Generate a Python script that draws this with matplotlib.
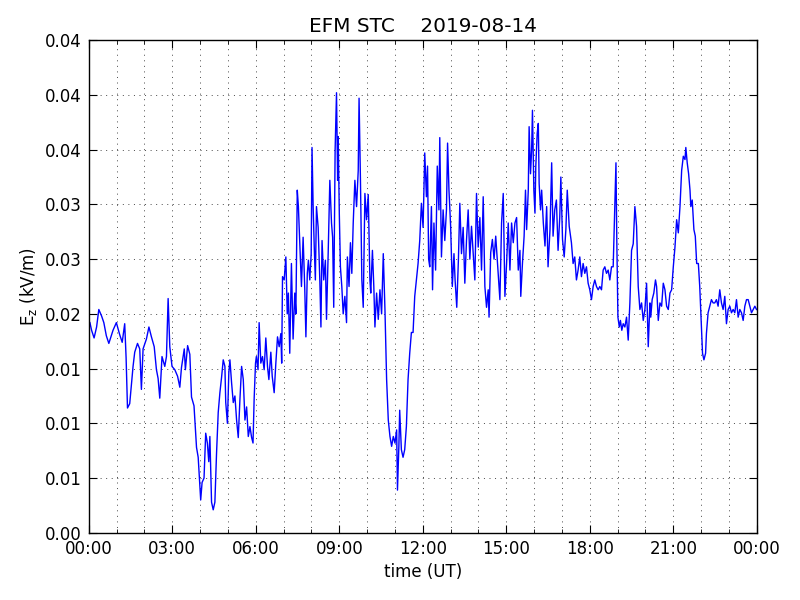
import datetime as dt

import matplotlib

matplotlib.use("Agg")
import matplotlib.dates as mdates
import matplotlib.pyplot as plt
from matplotlib.ticker import FormatStrFormatter

# hours after 00:00 UT and vertical field (kV/m)
hours = [
    0.04, 0.10, 0.19, 0.28, 0.36, 0.46, 0.54, 0.63, 0.72, 0.87,
    0.99, 1.11, 1.20, 1.29, 1.34, 1.39, 1.47, 1.59, 1.65, 1.75,
    1.83, 1.89, 1.95, 2.07, 2.16, 2.25, 2.35, 2.43, 2.49, 2.55,
    2.63, 2.73, 2.79, 2.85, 2.91, 2.99, 3.09, 3.19, 3.27, 3.33,
    3.43, 3.47, 3.55, 3.63, 3.69, 3.78,
    3.87, 3.93, 3.99, 4.02, 4.07, 4.14, 4.20, 4.26, 4.31, 4.35,
    4.41, 4.47, 4.53, 4.59, 4.65, 4.71, 4.77, 4.83, 4.89, 4.92,
    4.98, 5.03, 5.07, 5.13, 5.19, 5.25, 5.31, 5.37, 5.43, 5.49,
    5.55, 5.61, 5.67, 5.73, 5.79, 5.85, 5.90, 5.94, 5.99, 6.02,
    6.08, 6.12, 6.18, 6.24, 6.30, 6.36, 6.42, 6.47, 6.54, 6.59,
    6.66, 6.72, 6.78, 6.84, 6.90, 6.93,
    6.96, 7.02, 7.08, 7.13, 7.17, 7.22, 7.28, 7.34, 7.40, 7.44,
    7.49, 7.53, 7.58, 7.64, 7.70, 7.76, 7.80, 7.85, 7.89, 7.94,
    7.99, 8.02, 8.06, 8.10, 8.14, 8.18, 8.24, 8.30, 8.34, 8.38,
    8.44, 8.50, 8.54, 8.60, 8.66, 8.72, 8.76, 8.80, 8.85, 8.90,
    8.94, 8.96, 9.00, 9.04, 9.09, 9.14, 9.20, 9.26, 9.29, 9.35,
    9.40, 9.45, 9.50, 9.56, 9.62, 9.68, 9.71, 9.76, 9.81, 9.86,
    9.92, 9.98, 10.04,
    10.10, 10.13, 10.19, 10.24, 10.28, 10.34, 10.40, 10.46, 10.52, 10.58,
    10.64, 10.70, 10.76, 10.82, 10.88, 10.94, 11.00, 11.06, 11.09, 11.14,
    11.17, 11.23, 11.29, 11.35, 11.41, 11.47, 11.53, 11.59, 11.65, 11.71,
    11.77, 11.83, 11.89, 11.95, 12.01, 12.07, 12.13, 12.17, 12.21, 12.25,
    12.31, 12.35, 12.40, 12.46, 12.52, 12.58, 12.61, 12.67, 12.73, 12.79,
    12.85, 12.89, 12.94, 13.00, 13.06, 13.12, 13.16, 13.22, 13.28, 13.33,
    13.39, 13.45, 13.51, 13.57, 13.63, 13.69, 13.75, 13.81, 13.87, 13.93,
    13.99,
    14.05, 14.11, 14.17, 14.23, 14.29, 14.35, 14.38, 14.44, 14.50, 14.56,
    14.62, 14.71, 14.77, 14.83, 14.89, 14.95, 15.01, 15.07, 15.13, 15.19,
    15.25, 15.31, 15.37, 15.43, 15.49, 15.52, 15.58, 15.64, 15.69, 15.73,
    15.79, 15.82, 15.87, 15.91, 15.94, 15.99, 16.03, 16.06, 16.11, 16.15,
    16.18, 16.23, 16.27, 16.33, 16.39, 16.45, 16.50, 16.57, 16.63, 16.68,
    16.74, 16.80, 16.86, 16.92, 16.96, 17.02, 17.08, 17.14, 17.19, 17.26,
    17.34, 17.40, 17.46, 17.52, 17.58, 17.64, 17.70, 17.76, 17.82, 17.88,
    17.94,
    18.00, 18.06, 18.12, 18.18, 18.24, 18.30, 18.36, 18.42, 18.48, 18.54,
    18.60, 18.66, 18.72, 18.78, 18.84, 18.90, 18.94, 18.97, 19.01, 19.06,
    19.10, 19.15, 19.20, 19.26, 19.32, 19.38, 19.44, 19.50, 19.56, 19.62,
    19.68, 19.74, 19.80, 19.86, 19.92, 19.98, 20.04, 20.10, 20.16, 20.19,
    20.24, 20.30, 20.36, 20.40, 20.46, 20.52, 20.58, 20.64, 20.70, 20.76,
    20.82, 20.88, 20.94, 21.00, 21.06, 21.12, 21.18, 21.24, 21.30, 21.36,
    21.42, 21.45, 21.50, 21.55, 21.60, 21.63, 21.68, 21.74, 21.79, 21.84,
    21.90, 21.95, 22.01, 22.05, 22.10, 22.16, 22.19, 22.25, 22.31, 22.37,
    22.43, 22.49, 22.55, 22.61, 22.67, 22.73, 22.79, 22.85, 22.91, 22.97,
    23.03, 23.09, 23.15, 23.21, 23.27, 23.33, 23.39, 23.45, 23.51, 23.57,
    23.63, 23.69, 23.75, 23.81, 23.87, 23.93, 23.99,
]

ez = [
    .0192, .0185, .0178, .0188, .0204, .0198, .0192, .0180, .0173, .0185,
    .0192, .0181, .0174, .0191, .0160, .0114, .0118, .0152, .0165, .0173,
    .0168, .0131, .0168, .0177, .0188, .0179, .0170, .0149, .0141, .0123,
    .0161, .0152, .0161, .0214, .0170, .0152, .0149, .0143, .0133, .0151,
    .0168, .0149, .0171, .0163, .0124, .0116,
    .0078, .0069, .0042, .0030, .0046, .0050, .0091, .0082, .0065, .0088,
    .0028, .0021, .0028, .0073, .0110, .0128, .0142, .0158, .0152, .0119,
    .0100, .0146, .0158, .0137, .0119, .0125, .0103, .0087, .0122, .0152,
    .0140, .0103, .0115, .0088, .0097, .0087, .0082, .0122, .0155, .0161,
    .0149, .0192, .0155, .0161, .0149, .0178, .0152, .0140, .0165, .0143,
    .0128, .0155, .0179, .0170, .0182, .0155,
    .0234, .0231, .0252, .0200, .0219, .0164, .0246, .0177, .0219, .0200,
    .0313, .0298, .0265, .0225, .0270, .0222, .0179, .0237, .0249, .0231,
    .0255, .0352, .0298, .0261, .0231, .0298, .0279, .0231, .0188, .0267,
    .0231, .0249, .0195, .0255, .0322, .0283, .0270, .0206, .0350, .0402,
    .0322, .0362, .0292, .0243, .0225, .0200, .0216, .0192, .0252, .0225,
    .0265, .0237, .0283, .0322, .0298, .0331, .0397, .0322, .0231, .0206,
    .0310, .0286, .0309,
    .0231, .0219, .0258, .0225, .0188, .0219, .0195, .0222, .0200, .0255,
    .0204, .0140, .0103, .0088, .0079, .0088, .0082, .0094, .0039, .0079,
    .0112, .0076, .0069, .0076, .0097, .0140, .0164, .0183, .0183, .0216,
    .0231, .0246, .0267, .0301, .0279, .0347, .0307, .0335, .0250, .0243,
    .0298, .0222, .0283, .0240, .0335, .0295, .0361, .0252, .0295, .0267,
    .0295, .0356, .0313, .0280, .0225, .0255, .0231, .0206, .0250, .0301,
    .0255, .0279, .0228, .0267, .0295, .0250, .0280, .0255, .0231, .0310,
    .0261,
    .0288, .0240, .0307, .0225, .0206, .0222, .0197, .0256, .0268, .0250,
    .0271, .0237, .0213, .0283, .0310, .0216, .0246, .0283, .0240, .0283,
    .0265, .0283, .0288, .0240, .0258, .0216, .0246, .0271, .0313, .0277,
    .0313, .0371, .0328, .0350, .0386, .0313, .0292, .0335, .0365, .0374,
    .0319, .0295, .0313, .0283, .0262, .0298, .0243, .0277, .0338, .0271,
    .0295, .0304, .0258, .0288, .0325, .0268, .0252, .0277, .0313, .0280,
    .0265, .0246, .0252, .0231, .0240, .0252, .0234, .0246, .0237, .0243,
    .0228,
    .0222, .0213, .0225, .0231, .0225, .0222, .0225, .0222, .0240, .0243,
    .0237, .0240, .0231, .0243, .0243, .0298, .0338, .0267, .0197, .0188,
    .0194, .0185, .0191, .0188, .0197, .0176, .0210, .0258, .0264, .0298,
    .0280, .0225, .0204, .0210, .0194, .0204, .0228, .0170, .0210, .0197,
    .0213, .0219, .0231, .0225, .0194, .0210, .0207, .0228, .0222, .0207,
    .0204, .0219, .0222, .0243, .0261, .0286, .0274, .0298, .0331, .0344,
    .0341, .0352, .0338, .0328, .0313, .0298, .0304, .0277, .0271, .0246,
    .0246, .0225, .0188, .0164, .0158, .0164, .0182, .0201, .0207, .0213,
    .0210, .0210, .0213, .0207, .0222, .0210, .0204, .0216, .0191, .0204,
    .0207, .0201, .0204, .0201, .0213, .0197, .0204, .0201, .0194, .0207,
    .0213, .0213, .0207, .0201, .0204, .0207, .0204,
]

ytick_values = [0.0, 0.005, 0.01, 0.015, 0.02, 0.025, 0.03, 0.035, 0.04, 0.045]

day = dt.datetime(2019, 8, 14)
times = [day + dt.timedelta(hours=h) for h in hours]

plt.rcParams["font.family"] = "DejaVu Sans"
plt.rcParams["font.size"] = 12
plt.rcParams["axes.linewidth"] = 1.0

fig = plt.figure(figsize=(8, 6), dpi=100)
ax = fig.add_axes([0.111, 0.112, 0.835, 0.821])
ax.plot(times, ez, color="b", lw=1.0)

ax.set_xlim(day, day + dt.timedelta(days=1))
ax.set_ylim(0, 0.045)
ax.set_yticks(ytick_values)
ax.yaxis.set_major_formatter(FormatStrFormatter("%.2f"))
ax.xaxis.set_major_locator(mdates.HourLocator(interval=3))
ax.xaxis.set_minor_locator(mdates.HourLocator())
ax.xaxis.set_major_formatter(mdates.DateFormatter("%H:%M"))

# sparse dotted grid like the old classic style
ax.grid(True, which="both", color="k", lw=0.5, ls=(0, (1.4, 6.6)))
ax.tick_params(which="both", direction="in", top=True, right=True)
ax.tick_params(which="major", length=6, pad=5)
ax.tick_params(which="minor", length=3)

ax.set_title("EFM STC    2019-08-14")
ax.set_xlabel("time (UT)")
ax.set_ylabel(r"E$_\mathrm{z}$ (kV/m)")

fig.savefig("out.png", dpi=100)
